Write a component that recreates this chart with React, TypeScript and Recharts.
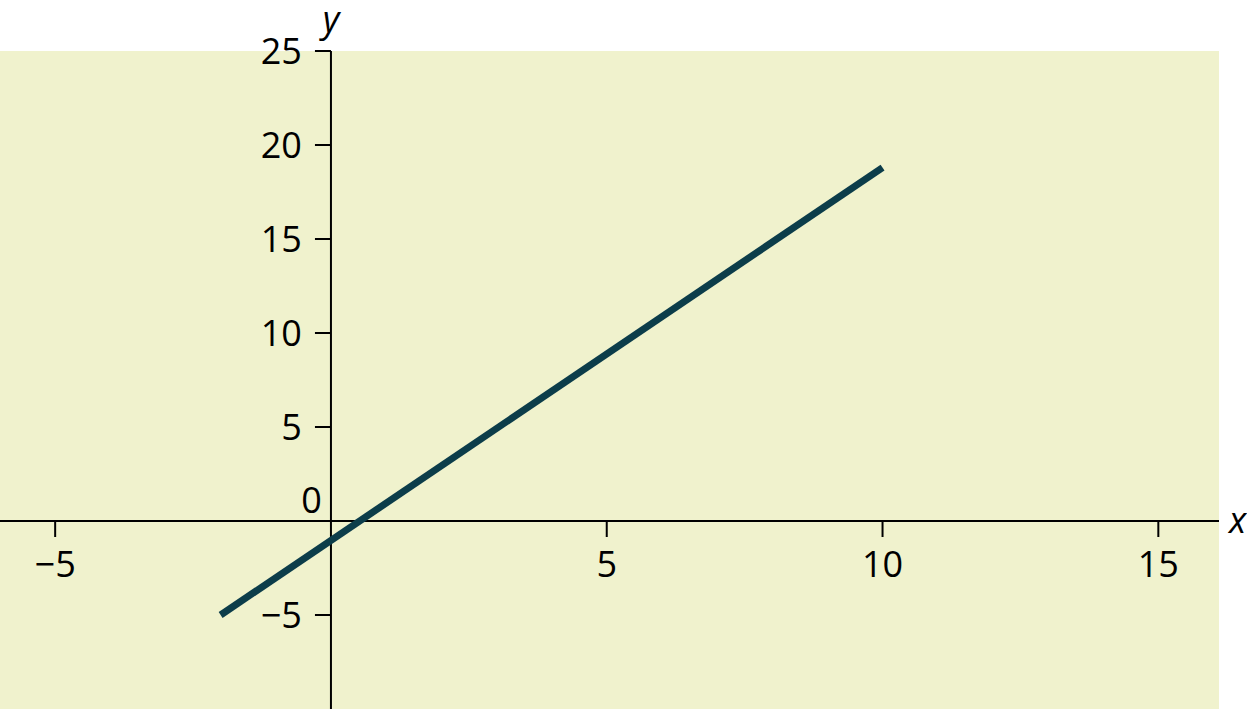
import React from "react";
import {
  LineChart,
  Line,
  XAxis,
  YAxis,
  CartesianGrid,
  ReferenceLine,
  ReferenceDot,
} from "recharts";

const lineX = [-2, 10];
const lineY = [-5, 18.8];
const xTicks = [-5, 5, 10, 15];
const yTicks = [-5, 5, 10, 15, 20, 25];
const xDomain: [number, number] = [-6, 16.1];
const yDomain: [number, number] = [-10, 25];

const data = lineX.map((x, i) => ({ x, y: lineY[i] }));

const FONT = "'Open Sans', 'Noto Sans', sans-serif";
const SIZE = 36;

function xTickShape(label: number) {
  return (p: any) => (
    <g>
      <line x1={p.cx} y1={p.cy} x2={p.cx} y2={p.cy + 16} stroke="#000" strokeWidth={2} />
      <text x={p.cx} y={p.cy + 56} textAnchor="middle" fontSize={SIZE} fontFamily={FONT} fill="#000">
        {label < 0 ? `\u2212${-label}` : label}
      </text>
    </g>
  );
}

function yTickShape(label: number) {
  return (p: any) => (
    <g>
      <line x1={p.cx - 16} y1={p.cy} x2={p.cx} y2={p.cy} stroke="#000" strokeWidth={2} />
      <text x={p.cx - 29} y={p.cy + 13} textAnchor="end" fontSize={SIZE} fontFamily={FONT} fill="#000">
        {label < 0 ? `\u2212${-label}` : label}
      </text>
    </g>
  );
}

export default function App() {
  return (
    <div style={{ position: "absolute", left: 0, top: 0 }}>
      <LineChart
        width={1247}
        height={709}
        data={data}
        margin={{ top: 51, right: 28, bottom: 0, left: 0 }}
      >
        <CartesianGrid horizontal={false} vertical={false} fill="#f0f2cd" />
        <XAxis dataKey="x" type="number" domain={xDomain} hide allowDataOverflow />
        <YAxis type="number" domain={yDomain} hide allowDataOverflow />
        <ReferenceLine y={0} stroke="#000" strokeWidth={2} />
        <ReferenceLine x={0} stroke="#000" strokeWidth={2} />
        <Line
          dataKey="y"
          stroke="#0c3d4a"
          strokeWidth={7}
          strokeLinecap="butt"
          dot={false}
          isAnimationActive={false}
        />
        {xTicks.map((t) => (
          <ReferenceDot key={`x${t}`} x={t} y={0} ifOverflow="visible" shape={xTickShape(t)} />
        ))}
        {yTicks.map((t) => (
          <ReferenceDot key={`y${t}`} x={0} y={t} ifOverflow="visible" shape={yTickShape(t)} />
        ))}
        <ReferenceDot
          x={0}
          y={0}
          ifOverflow="visible"
          shape={(p: any) => (
            <text x={p.cx - 9} y={p.cy - 8} textAnchor="end" fontSize={SIZE} fontFamily={FONT} fill="#000">
              0
            </text>
          )}
        />
        <ReferenceDot
          x={xDomain[1]}
          y={0}
          ifOverflow="visible"
          shape={(p: any) => (
            <text x={p.cx + 10} y={p.cy + 12} textAnchor="start" fontSize={SIZE} fontStyle="italic" fontFamily={FONT} fill="#000">
              x
            </text>
          )}
        />
        <ReferenceDot
          x={0}
          y={yDomain[1]}
          ifOverflow="visible"
          shape={(p: any) => (
            <text x={p.cx} y={p.cy - 19} textAnchor="middle" fontSize={SIZE} fontStyle="italic" fontFamily={FONT} fill="#000">
              y
            </text>
          )}
        />
      </LineChart>
    </div>
  );
}
